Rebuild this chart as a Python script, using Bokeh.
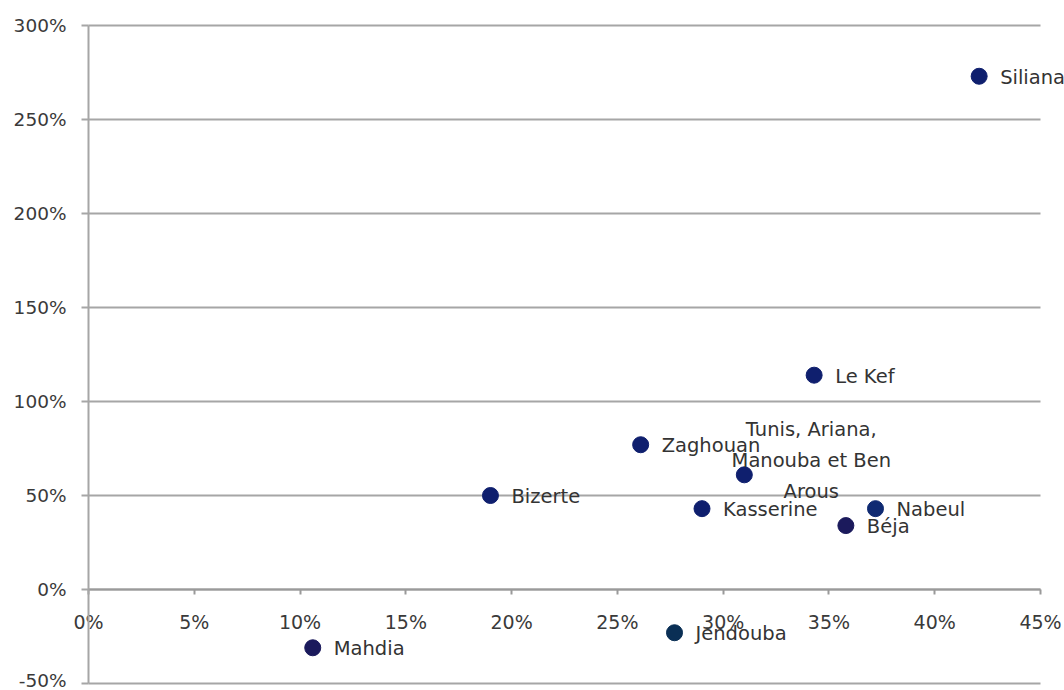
from bokeh.plotting import figure
from bokeh.models import (ColumnDataSource, LabelSet, Label, Range1d, LinearAxis,
                          FixedTicker, PrintfTickFormatter)
from bokeh.core.properties import value
from bokeh.embed import file_html
from bokeh.resources import INLINE

# Governorates: x = share (%), y = change (%)
regions = ["Siliana", "Le Kef", "Zaghouan", "Bizerte", "Kasserine",
           "Nabeul", "Béja", "Jendouba", "Mahdia"]
x_share = [42.1, 34.3, 26.1, 19.0, 29.0, 37.2, 35.8, 27.7, 10.6]
y_change = [273, 114, 77, 50, 43, 43, 34, -23, -31]
dot_colors = ["#0f1f6e", "#0f1f6e", "#0f1f6e", "#0f1f6e", "#0f1f6e",
              "#0f2a72", "#1b1a5c", "#0a2f55", "#1b1a5c"]

tunis_name = "Tunis, Ariana,\nManouba et Ben\nArous"
tunis_x = 31.0
tunis_y = 61

x_ticks = [0, 5, 10, 15, 20, 25, 30, 35, 40, 45]
y_ticks = [-50, 0, 50, 100, 150, 200, 250, 300]

FONT = "DejaVu Sans"
GRID = "#a6a6a6"
AXIS = "#9a9a9a"
TEXT = "#333333"
TICK_TEXT = "#3a3a3a"

# Plot area geometry (pixels) inside a 1064 x 690 canvas
W, H = 1064, 690
LEFT, RIGHT, TOP, BOTTOM = 88, 1040, 25, 683
x_lo, x_hi = x_ticks[0], x_ticks[-1]
y_lo, y_hi = y_ticks[0], y_ticks[-1]
px_x = (RIGHT - LEFT) / (x_hi - x_lo)
px_y = (BOTTOM - TOP) / (y_hi - y_lo)

p = figure(width=W, height=H, output_backend="svg", toolbar_location=None,
           x_range=Range1d(x_lo - LEFT / px_x, x_hi + (W - RIGHT) / px_x),
           y_range=Range1d(y_lo - (H - BOTTOM) / px_y, y_hi + TOP / px_y),
           x_axis_location=None, y_axis_location=None,
           min_border=0)
p.outline_line_color = None
p.background_fill_color = "white"
p.border_fill_color = "white"
p.xgrid.visible = False
p.ygrid.visible = False

# horizontal gridlines spanning 0% .. 45%
p.segment(x0=[x_lo] * len(y_ticks), x1=[x_hi] * len(y_ticks), y0=y_ticks, y1=y_ticks,
          line_color=GRID, line_width=2)

# y axis at x = 0
ya = LinearAxis(fixed_location=0, bounds=(y_lo, y_hi))
ya.ticker = FixedTicker(ticks=y_ticks)
ya.formatter = PrintfTickFormatter(format="%d%%")
ya.axis_line_color = GRID
ya.axis_line_width = 2
ya.major_tick_line_color = GRID
ya.major_tick_line_width = 2
ya.major_tick_out = 7
ya.major_tick_in = 0
ya.minor_tick_line_color = None
ya.major_label_text_font = FONT
ya.major_label_text_font_size = "18.5px"
ya.major_label_text_color = TICK_TEXT
ya.major_label_standoff = 15
p.add_layout(ya, "left")

# x axis crossing at y = 0
xa = LinearAxis(fixed_location=0, bounds=(x_lo, x_hi))
xa.ticker = FixedTicker(ticks=x_ticks)
xa.formatter = PrintfTickFormatter(format="%d%%")
xa.axis_line_color = AXIS
xa.axis_line_width = 2
xa.major_tick_line_color = AXIS
xa.major_tick_line_width = 2
xa.major_tick_out = 5
xa.major_tick_in = 0
xa.minor_tick_line_color = None
xa.major_label_text_font = FONT
xa.major_label_text_font_size = "19px"
xa.major_label_text_color = TICK_TEXT
xa.major_label_standoff = 16
p.add_layout(xa, "below")

src = ColumnDataSource(dict(x=x_share, y=y_change, name=regions, color=dot_colors))
p.scatter("x", "y", source=src, size=16, fill_color="color", line_color="color")
p.scatter([tunis_x], [tunis_y], size=16, fill_color="#0f1f6e", line_color="#0f1f6e")

labels = LabelSet(x="x", y="y", text="name", source=src, x_offset=21, y_offset=-1,
                  text_font=value(FONT), text_font_size="19.5px", text_color=TEXT,
                  text_baseline="middle", text_align="left")
p.add_layout(labels)

tunis_label = Label(x=tunis_x, y=tunis_y, text=tunis_name, x_offset=67, y_offset=14,
                    text_font=FONT, text_font_size="19.5px", text_color=TEXT,
                    text_baseline="middle", text_align="center", text_line_height=1.35)
p.add_layout(tunis_label)

open("out.html", "w").write(file_html(p, INLINE))
